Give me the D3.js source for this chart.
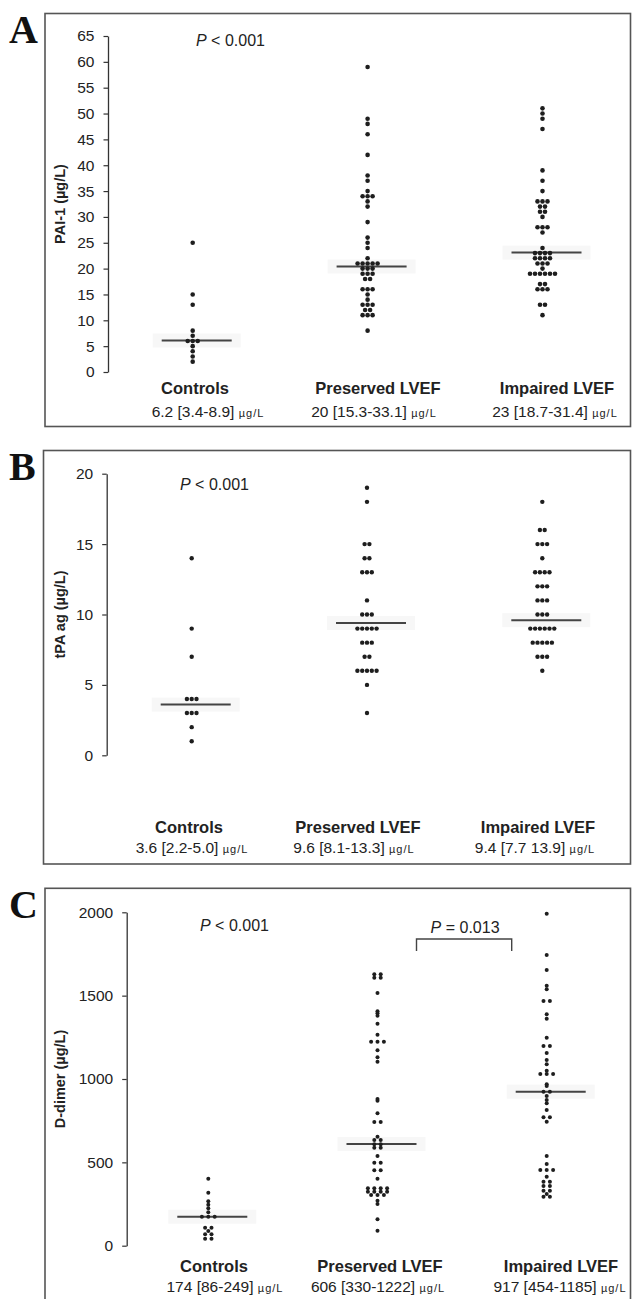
<!DOCTYPE html>
<html>
<head>
<meta charset="utf-8">
<script src="https://cdn.jsdelivr.net/npm/d3@7"></script>
<style>
  body { margin: 0; background: #fff; }
  svg text { font-family: "Liberation Sans", Arial, sans-serif; fill: #222; }
</style>
</head>
<body>
<svg id="chart" width="632" height="1299"></svg>
<script>
//the three groups, same on every panel
var groups = ["Controls", "Preserved LVEF", "Impaired LVEF"];

//panel A: PAI-1 (µg/L)
var paiControls = [25, 15, 13, 8, 7, 6, 6, 6, 5, 4, 3, 2];
var paiPreserved = [59, 49, 48, 46, 42, 38, 37, 35, 34, 34, 34, 33, 32, 29, 26, 25, 24, 22,
  21, 21, 21, 21, 21, 20, 20, 20, 19, 19, 19, 18, 18, 16, 16, 16, 15, 14, 13, 13, 13,
  12, 12, 11, 11, 11, 8];
var paiImpaired = [51, 50, 49, 47, 39, 37, 35, 33, 33, 33, 32, 32, 31, 31, 30, 28, 28, 28,
  27, 24, 23, 23, 23, 23, 22, 22, 22, 22, 21, 21, 21, 20, 19, 19, 19, 19, 19, 19,
  17, 17, 16, 16, 16, 13, 13, 11];
var paiMedians = [6.1, 20.4, 23.1];
var paiTicks = [0, 5, 10, 15, 20, 25, 30, 35, 40, 45, 50, 55, 60, 65];
var paiSummary = ["6.2 [3.4-8.9]", "20 [15.3-33.1]", "23 [18.7-31.4]"];

//panel B: tPA ag (µg/L)
var tpaControls = [14, 9, 7, 4, 4, 4, 3, 3, 3, 2, 1];
var tpaPreserved = [19, 18, 15, 15, 14, 14, 13, 13, 13, 11, 10, 10, 10, 9, 9, 9, 9, 9,
  8, 8, 8, 7, 7, 6, 6, 6, 6, 6, 5, 3];
var tpaImpaired = [18, 16, 16, 15, 15, 15, 14, 13, 13, 13, 13, 12, 12, 12, 11, 11, 11,
  10, 10, 10, 9, 9, 9, 9, 9, 9, 8, 8, 8, 8, 8, 7, 7, 7, 6];
var tpaMedians = [3.6, 9.4, 9.6];
var tpaTicks = [0, 5, 10, 15, 20];
var tpaSummary = ["3.6 [2.2-5.0]", "9.6 [8.1-13.3]", "9.4 [7.7 13.9]"];

//panel C: D-dimer (µg/L)
var ddControls = [402, 318, 266, 246, 224, 200, 174, 174, 174, 108, 108, 88, 68, 68, 42, 42];
var ddPreserved = [1628, 1628, 1608, 1608, 1516, 1406, 1394, 1380, 1332, 1266, 1224, 1224,
  1224, 1172, 1130, 1104, 880, 870, 794, 742, 742, 654, 634, 634, 608, 608, 588, 588,
  538, 498, 498, 452, 452, 402, 344, 344, 344, 344, 324, 324, 324, 324, 304, 304, 304,
  270, 250, 158, 90];
var ddImpaired = [1992, 1744, 1654, 1560, 1538, 1468, 1468, 1388, 1362, 1248, 1198, 1198,
  1156, 1114, 1088, 1050, 1030, 1030, 1030, 968, 958, 924, 924, 898, 874, 854, 814,
  770, 770, 744, 538, 490, 454, 454, 454, 414, 384, 384, 358, 358, 330, 330, 310, 294, 294];
var ddMedians = [174, 610, 924];
var ddTicks = [0, 500, 1000, 1500, 2000];
var ddSummary = ["174 [86-249]", "606 [330-1222]", "917 [454-1185]"];
var ddBracketLevel = 1840;

var svg = d3.select("#chart");

//layout of each panel (pixel positions only, values come from the arrays above)
var panels = [
  { letter: "A", letterY: 43, box: [45, 13.5, 630.5, 426.5],
    axisX: 108, yRange: [372, 36], domain: [0, 65], ticks: paiTicks, tickFont: 15.5,
    label: "PAI-1 (µg/L)", cols: [192.7, 542.5],
    values: [paiControls, paiPreserved, paiImpaired], medians: paiMedians, summary: paiSummary,
    catX: [195, 378, 557], catY: 394, valX: [208, 374, 555], valY: 416.5,
    pX: 196, pY: 46, spacing: 5, r: 2.3 },
  { letter: "B", letterY: 480, box: [43.5, 450.5, 630.5, 864],
    axisX: 106.7, yRange: [755.3, 473.7], domain: [0, 20], ticks: tpaTicks, tickFont: 15.5,
    label: "tPA ag (µg/L)", cols: [191.7, 542.3],
    values: [tpaControls, tpaPreserved, tpaImpaired], medians: tpaMedians, summary: tpaSummary,
    catX: [189, 358, 538], catY: 833, valX: [192, 354, 535], valY: 853,
    pX: 180, pY: 489.5, spacing: 4.8, r: 2.2 },
  { letter: "C", letterY: 918, box: [45, 888.3, 630.5, 1320],
    axisX: 126.7, yRange: [1245.7, 912.3], domain: [0, 2000], ticks: ddTicks, tickFont: 15.5,
    label: "D-dimer (µg/L)", cols: [208.3, 546.7],
    values: [ddControls, ddPreserved, ddImpaired], medians: ddMedians, summary: ddSummary,
    catX: [214, 380, 561], catY: 1271.5, valX: [225, 378, 560], valY: 1291.5,
    pX: 200, pY: 930.7, spacing: 6.4, r: 2, bracket: ddBracketLevel }
];

panels.forEach(drawPanel);

function drawPanel(p) {
  var g = svg.append("g");

  //frame round the panel
  g.append("rect")
    .attr("x", p.box[0]).attr("y", p.box[1])
    .attr("width", p.box[2] - p.box[0]).attr("height", p.box[3] - p.box[1])
    .attr("fill", "none").attr("stroke", "#555").attr("stroke-width", 1.6);

  //panel letter
  g.append("text")
    .attr("x", 9).attr("y", p.letterY)
    .style("font-family", "'Liberation Serif', 'Times New Roman', serif")
    .style("font-weight", "bold").style("font-size", "40px").style("fill", "#111")
    .text(p.letter);

  var y = d3.scaleLinear().domain(p.domain).range(p.yRange);
  var x = d3.scalePoint().domain(groups).range(p.cols);

  //y axis
  var axis = g.append("g")
    .attr("transform", "translate(" + p.axisX + ",0)")
    .call(d3.axisLeft(y).tickValues(p.ticks).tickFormat(d3.format("d"))
      .tickSize(4.5).tickSizeOuter(0).tickPadding(9));
  axis.select(".domain").attr("stroke", "#333").attr("stroke-width", 1.3);
  axis.selectAll(".tick line").attr("stroke", "#333").attr("stroke-width", 1.2);
  axis.selectAll(".tick text")
    .style("font-family", "'Liberation Sans', Arial, sans-serif")
    .style("font-size", p.tickFont + "px").attr("fill", "#2a2a2a");

  //y axis title
  g.append("text")
    .attr("transform", "translate(64.5," + ((p.yRange[0] + p.yRange[1]) / 2) + ") rotate(-90)")
    .attr("text-anchor", "middle")
    .style("font-weight", "bold").style("font-size", "14.5px")
    .text(p.label);

  //overall P value
  var pt = g.append("text").attr("x", p.pX).attr("y", p.pY).style("font-size", "16px");
  pt.append("tspan").style("font-style", "italic").text("P");
  pt.append("tspan").text(" < 0.001");

  //faint halo + median line for each group
  g.selectAll(".halo")
    .data(p.medians)
    .enter().append("rect")
      .attr("class", "halo")
      .attr("x", function(d, i) { return x(groups[i]) - 40; })
      .attr("y", function(d) { return y(d) - 7; })
      .attr("width", 88).attr("height", 14)
      .attr("fill", "#f7f7f7");

  g.selectAll(".median")
    .data(p.medians)
    .enter().append("line")
      .attr("class", "median")
      .attr("x1", function(d, i) { return x(groups[i]) - 31; })
      .attr("x2", function(d, i) { return x(groups[i]) + 39; })
      .attr("y1", function(d) { return y(d); })
      .attr("y2", function(d) { return y(d); })
      .attr("stroke", "#444").attr("stroke-width", 2);

  //dots: equal values sit side by side, centred on the group column
  var pts = [];
  p.values.forEach(function(vals, gi) {
    var counts = d3.rollup(vals, function(v) { return v.length; }, function(d) { return d; });
    counts.forEach(function(n, v) {
      for (var i = 0; i < n; i++) {
        pts.push({ g: groups[gi], v: v, dx: (i - (n - 1) / 2) * p.spacing });
      }
    });
  });

  g.selectAll(".dot")
    .data(pts)
    .enter().append("circle")
      .attr("class", "dot")
      .attr("cx", function(d) { return x(d.g) + d.dx; })
      .attr("cy", function(d) { return y(d.v); })
      .attr("r", p.r)
      .attr("fill", "#1e1e1e");

  //group names
  g.selectAll(".cat")
    .data(groups)
    .enter().append("text")
      .attr("class", "cat")
      .attr("x", function(d, i) { return p.catX[i]; })
      .attr("y", p.catY)
      .attr("text-anchor", "middle")
      .style("font-weight", "bold").style("font-size", "16.5px")
      .text(function(d) { return d; });

  //median [IQR] under each name
  var vt = g.selectAll(".val")
    .data(p.summary)
    .enter().append("text")
      .attr("class", "val")
      .attr("x", function(d, i) { return p.valX[i]; })
      .attr("y", p.valY)
      .attr("text-anchor", "middle");
  vt.append("tspan").style("font-size", "15.5px")
    .text(function(d) { return d + " "; });
  vt.append("tspan").style("font-size", "11px").style("letter-spacing", "1px")
    .text("µg/L");

  //bracket between preserved and impaired with its P value
  if (p.bracket !== undefined) {
    var bx1 = x(groups[1]) + 39, bx2 = x(groups[2]) - 35, by = y(p.bracket);
    g.append("path")
      .attr("d", "M" + bx1 + "," + (by + 12) + "V" + by + "H" + bx2 + "V" + (by + 12))
      .attr("fill", "none").attr("stroke", "#444").attr("stroke-width", 1.4);
    var bt = g.append("text")
      .attr("x", (bx1 + bx2) / 2 + 1).attr("y", by - 6)
      .attr("text-anchor", "middle").style("font-size", "16px");
    bt.append("tspan").style("font-style", "italic").text("P");
    bt.append("tspan").text(" = 0.013");
  }
}
</script>
</body>
</html>
